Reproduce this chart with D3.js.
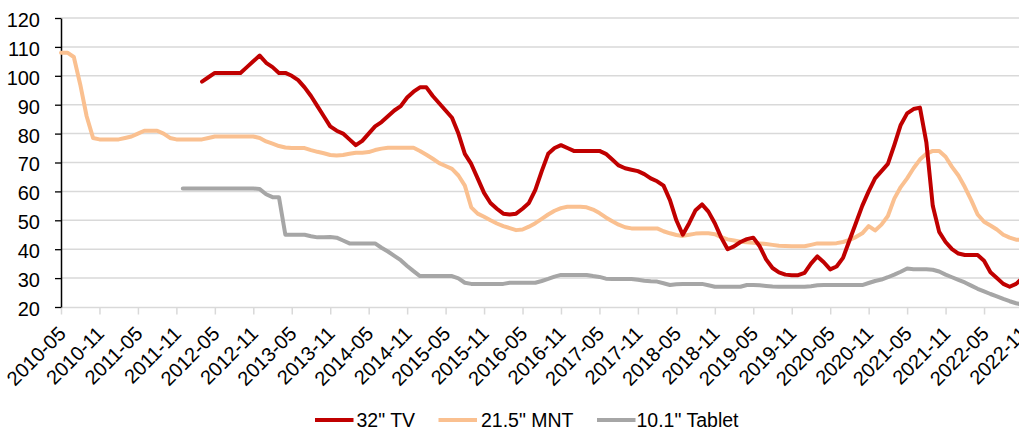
<!DOCTYPE html>
<html>
<head>
<meta charset="utf-8">
<script src="https://cdn.jsdelivr.net/npm/d3@7"></script>
<style>
  html, body { margin: 0; padding: 0; background: #fff; }
  svg { display: block; font-family: Arial, "Liberation Sans", sans-serif; }
</style>
</head>
<body>
<svg id="chart" width="1019" height="430"></svg>
<script>
// Monthly panel prices, 2010-05 .. 2022-11 (151 months); null = not yet tracked
const startMonth = "2010-05";
const monthCount = 151;

const tv32 = [
  null, null, null, null, null, null, null, null, null, null,
  null, null, null, null, null, null, null, null, null, null,
  null, null, 98, 99.5, 101, 101, 101, 101, 101, 103,
  105, 107, 104.5, 103, 101, 101, 100, 98.5, 96, 93,
  89.5, 86, 82.5, 81, 80, 78, 76, 77.5, 80, 82.5,
  84, 86, 88, 89.5, 92.5, 94.5, 96, 96, 93, 90.5,
  88, 85.5, 80, 73, 69.5, 64.5, 59.5, 56, 54, 52.3,
  52, 52.3, 54, 56, 60.5, 67, 73, 75, 76, 75,
  74, 74, 74, 74, 74, 73, 71, 69, 68, 67.5,
  67, 66, 64.5, 63.5, 62, 57, 50, 45, 49, 53.5,
  55.5, 53, 49, 44, 40, 41, 42.5, 43.5, 44, 41,
  36.5, 33.5, 32, 31.2, 31, 31, 31.8, 35, 37.5, 35.5,
  33, 34, 37, 43, 49, 55, 60, 64.5, 67, 69.5,
  76, 83, 87, 88.5, 89, 77, 55, 46, 42.5, 40,
  38.5, 38, 38, 38, 36, 32, 30, 28, 27, 28,
  30
];

const mnt215 = [
  108, 108, 106.5, 97, 86, 78.5, 78, 78, 78, 78,
  78.5, 79, 80, 81, 81, 81, 80, 78.5, 78, 78,
  78, 78, 78, 78.5, 79, 79, 79, 79, 79, 79,
  79, 78.5, 77.3, 76.5, 75.7, 75.2, 75, 75, 75, 74.3,
  73.7, 73.2, 72.6, 72.4, 72.6, 73, 73.4, 73.4, 73.6, 74.3,
  74.8, 75.1, 75.1, 75.1, 75.1, 75.1, 74, 72.7, 71.3, 69.8,
  68.8, 67.8, 65.5, 62, 54.5, 52.3, 51.2, 50, 48.9, 48,
  47.3, 46.6, 46.8, 47.8, 49, 50.5, 52, 53.3, 54.2, 54.7,
  54.7, 54.7, 54.5, 53.7, 52.5, 51, 49.7, 48.5, 47.6, 47.2,
  47.2, 47.2, 47.2, 47.2, 46.2, 45.5, 44.9, 44.6, 45, 45.4,
  45.5, 45.5, 45.2, 44.2, 43.4, 43, 42.6, 42.4, 42.2, 42,
  41.8, 41.5, 41.2, 41.1, 41, 41, 41, 41.5, 42, 42,
  42, 42.1, 42.5, 43.2, 44.2, 45.5, 48, 46.5, 48.5, 51.5,
  57.5, 61.5, 64.5, 68, 71, 73, 74, 74, 72, 68.5,
  65.5, 61.5, 57, 52, 49.5, 48.2, 46.8, 45, 44, 43.3,
  43.2
];

const tablet101 = [
  null, null, null, null, null, null, null, null, null, null,
  null, null, null, null, null, null, null, null, null, 61,
  61, 61, 61, 61, 61, 61, 61, 61, 61, 61,
  61, 60.8, 59, 58, 58, 45, 45, 45, 45, 44.5,
  44.1, 44.1, 44.2, 44, 43, 42, 42, 42, 42, 42,
  40.5, 39.2, 37.7, 36.2, 34.2, 32.4, 30.7, 30.7, 30.7, 30.7,
  30.7, 30.7, 29.9, 28.4, 28, 28, 28, 28, 28, 28,
  28.4, 28.4, 28.4, 28.4, 28.4, 29, 29.7, 30.5, 31.1, 31.1,
  31.1, 31.1, 31.1, 30.7, 30.4, 29.8, 29.7, 29.7, 29.7, 29.7,
  29.4, 29.1, 28.9, 28.8, 28.2, 27.6, 27.9, 28, 28, 28,
  28, 27.5, 27, 27, 27, 27, 27, 27.6, 27.6, 27.5,
  27.3, 27.1, 27, 27, 27, 27, 27, 27.2, 27.5, 27.6,
  27.6, 27.6, 27.6, 27.6, 27.6, 27.6, 28.3, 29, 29.5, 30.3,
  31.2, 32.2, 33.3, 33.1, 33.1, 33.1, 32.9, 32.3, 31.2, 30.3,
  29.4, 28.5, 27.4, 26.3, 25.4, 24.5, 23.7, 22.8, 22, 21.3,
  20.8
];

const yTicks = [20, 30, 40, 50, 60, 70, 80, 90, 100, 110, 120];
const seriesNames = ["32\" TV", "21.5\" MNT", "10.1\" Tablet"];
const seriesColors = ["#C00000", "#FAC090", "#A6A6A6"];

(function draw() {
  const axisFont = 20;
  const legendFont = 19.5;

  // Month categories and every-6-month labels
  const fmt = d3.utcFormat("%Y-%m");
  const parse = d3.utcParse("%Y-%m");
  const t0 = parse(startMonth);
  const months = d3.utcMonth.range(t0, d3.utcMonth.offset(t0, monthCount)).map(fmt);
  const xTickLabels = months.filter((m, i) => i % 6 === 0);

  const svg = d3.select("#chart");
  const plotLeft = 61, plotRight = 1022.5, plotTop = 18, plotBottom = 307;

  const x = d3.scalePoint().domain(months).range([plotLeft, plotRight]);
  const y = d3.scaleLinear().domain([20, 120]).range([plotBottom, plotTop]);

  // horizontal gridlines
  svg.append("g")
    .selectAll("line")
    .data(yTicks.filter(v => v !== 20))
    .join("line")
    .attr("x1", plotLeft).attr("x2", plotRight)
    .attr("y1", d => y(d)).attr("y2", d => y(d))
    .attr("stroke", "#D9D9D9")
    .attr("stroke-width", 1.5);

  // category axis along the bottom, labels slanted at 45 degrees
  const xAxis = svg.append("g")
    .attr("transform", `translate(0,${plotBottom})`)
    .call(d3.axisBottom(x).tickValues(xTickLabels).tickSize(7.5).tickSizeOuter(0));
  xAxis.select(".domain").attr("stroke", "#D9D9D9").attr("stroke-width", 1.5);
  xAxis.selectAll(".tick line").attr("stroke", "#D9D9D9").attr("stroke-width", 1.5);
  xAxis.selectAll(".tick text")
    .attr("fill", "#000")
    .attr("font-size", axisFont)
    .attr("text-anchor", "end")
    .attr("x", 0).attr("y", 0).attr("dy", 0)
    .attr("transform", "translate(5.5,28) rotate(-45)");

  // value axis
  const yAxis = svg.append("g")
    .attr("transform", `translate(${plotLeft},0)`)
    .call(d3.axisLeft(y).tickValues(yTicks).tickSize(6).tickPadding(15).tickSizeOuter(0));
  yAxis.select(".domain").attr("stroke", "#000").attr("stroke-width", 1.5);
  yAxis.selectAll(".tick line").attr("stroke", "#000").attr("stroke-width", 1.3);
  yAxis.selectAll(".tick text")
    .attr("fill", "#000")
    .attr("font-size", axisFont)
    .attr("dy", "0.42em");

  // series lines
  const line = d3.line()
    .defined(d => d.v != null)
    .x(d => x(d.m))
    .y(d => y(d.v));

  const seriesData = [tv32, mnt215, tablet101];
  // tablet first, then monitor, TV on top
  [2, 1, 0].forEach(k => {
    const pts = months.map((m, i) => ({ m, v: seriesData[k][i] }));
    svg.append("path")
      .datum(pts)
      .attr("fill", "none")
      .attr("stroke", seriesColors[k])
      .attr("stroke-width", 4)
      .attr("stroke-linejoin", "round")
      .attr("stroke-linecap", "round")
      .attr("d", line);
  });

  // legend
  const legendLineX = [315, 438.5, 597];
  const legendTextX = [356.5, 481, 636.5];
  const legendY = 420;
  const lg = svg.append("g");
  seriesNames.forEach((name, k) => {
    lg.append("line")
      .attr("x1", legendLineX[k]).attr("x2", legendLineX[k] + 38.5)
      .attr("y1", legendY).attr("y2", legendY)
      .attr("stroke", seriesColors[k])
      .attr("stroke-width", 4);
    lg.append("text")
      .attr("x", legendTextX[k])
      .attr("y", legendY + 7)
      .attr("font-size", legendFont)
      .attr("fill", "#000")
      .text(name);
  });
})();
</script>
</body>
</html>
